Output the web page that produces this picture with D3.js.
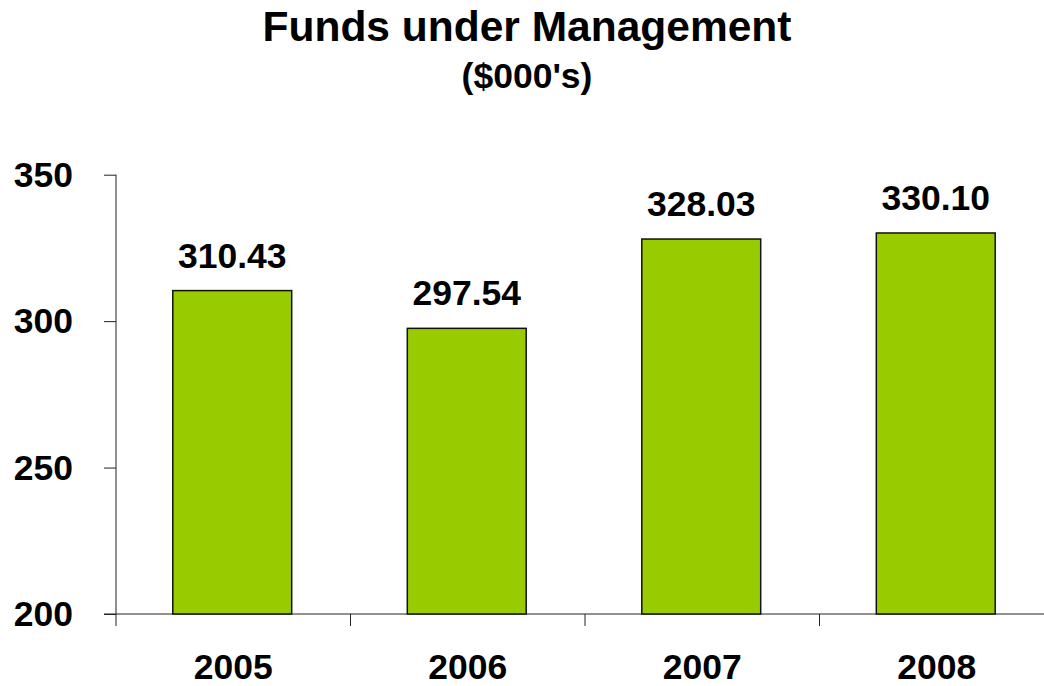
<!DOCTYPE html>
<html>
<head>
<meta charset="utf-8">
<script src="https://cdn.jsdelivr.net/npm/d3@7"></script>
<style>
	body { margin: 0; background: #fff; }
	text { font-family: Arial, "Liberation Sans", sans-serif; font-weight: bold; fill: #000; }
</style>
</head>
<body>
<svg width="1044" height="686"></svg>
<script>
var years = ["2005", "2006", "2007", "2008"];
var funds = [310.43, 297.54, 328.03, 330.10];
var yTicks = [200, 250, 300, 350];

var svg = d3.select("svg");

var plotLeft = 116, plotRight = 1054, plotTop = 174.7, plotBottom = 614;

var x = d3.scaleBand()
	.domain(years)
	.range([plotLeft, plotRight]);

var y = d3.scaleLinear()
	.domain([200, 350])
	.range([plotBottom, plotTop]);

// title
svg.append("text")
	.attr("x", 527).attr("y", 41)
	.attr("text-anchor", "middle")
	.style("font-size", "42.5px")
	.text("Funds under Management");

svg.append("text")
	.attr("x", 527).attr("y", 88)
	.attr("text-anchor", "middle")
	.style("font-size", "35.5px")
	.text("($000's)");

// y axis
var yAxis = svg.append("g")
	.attr("transform", "translate(" + plotLeft + ",0)")
	.call(d3.axisLeft(y).tickValues(yTicks).tickSize(12).tickFormat(d3.format("d")));
yAxis.select(".domain").remove();
yAxis.selectAll("line").attr("stroke", "#222");
yAxis.selectAll("text").remove();

svg.append("line")
	.attr("x1", plotLeft).attr("x2", plotLeft)
	.attr("y1", y(350)).attr("y2", plotBottom + 12)
	.attr("stroke", "#222");

svg.append("g").selectAll("text")
	.data(yTicks)
	.enter().append("text")
	.attr("x", 73)
	.attr("y", function(d) { return y(d) + 12; })
	.attr("text-anchor", "end")
	.style("font-size", "35.5px")
	.text(function(d) { return d; });

// x axis
svg.append("line")
	.attr("x1", 104).attr("x2", 1044)
	.attr("y1", plotBottom).attr("y2", plotBottom)
	.attr("stroke", "#222");

svg.append("g").selectAll("line")
	.data(years.slice(1))
	.enter().append("line")
	.attr("x1", function(d) { return x(d); })
	.attr("x2", function(d) { return x(d); })
	.attr("y1", plotBottom).attr("y2", plotBottom + 12)
	.attr("stroke", "#222");

svg.append("g").selectAll("text")
	.data(years)
	.enter().append("text")
	.attr("x", function(d) { return x(d) + x.bandwidth() / 2; })
	.attr("y", 679)
	.attr("text-anchor", "middle")
	.style("font-size", "35.5px")
	.text(function(d) { return d; });

// bars
var barW = x.bandwidth() * 0.507;

svg.append("g").selectAll("rect")
	.data(funds)
	.enter().append("rect")
	.attr("x", function(d, i) { return x(years[i]) + x.bandwidth() / 2 - barW / 2 - 1; })
	.attr("y", function(d) { return y(d); })
	.attr("width", barW)
	.attr("height", function(d) { return plotBottom - y(d); })
	.attr("fill", "#99cc00")
	.attr("stroke", "#111")
	.attr("stroke-width", 1.5);

svg.append("g").selectAll("text")
	.data(funds)
	.enter().append("text")
	.attr("x", function(d, i) { return x(years[i]) + x.bandwidth() / 2 - 1; })
	.attr("y", function(d) { return y(d) - 23; })
	.attr("text-anchor", "middle")
	.style("font-size", "35.5px")
	.text(function(d) { return d.toFixed(2); });
</script>
</body>
</html>
